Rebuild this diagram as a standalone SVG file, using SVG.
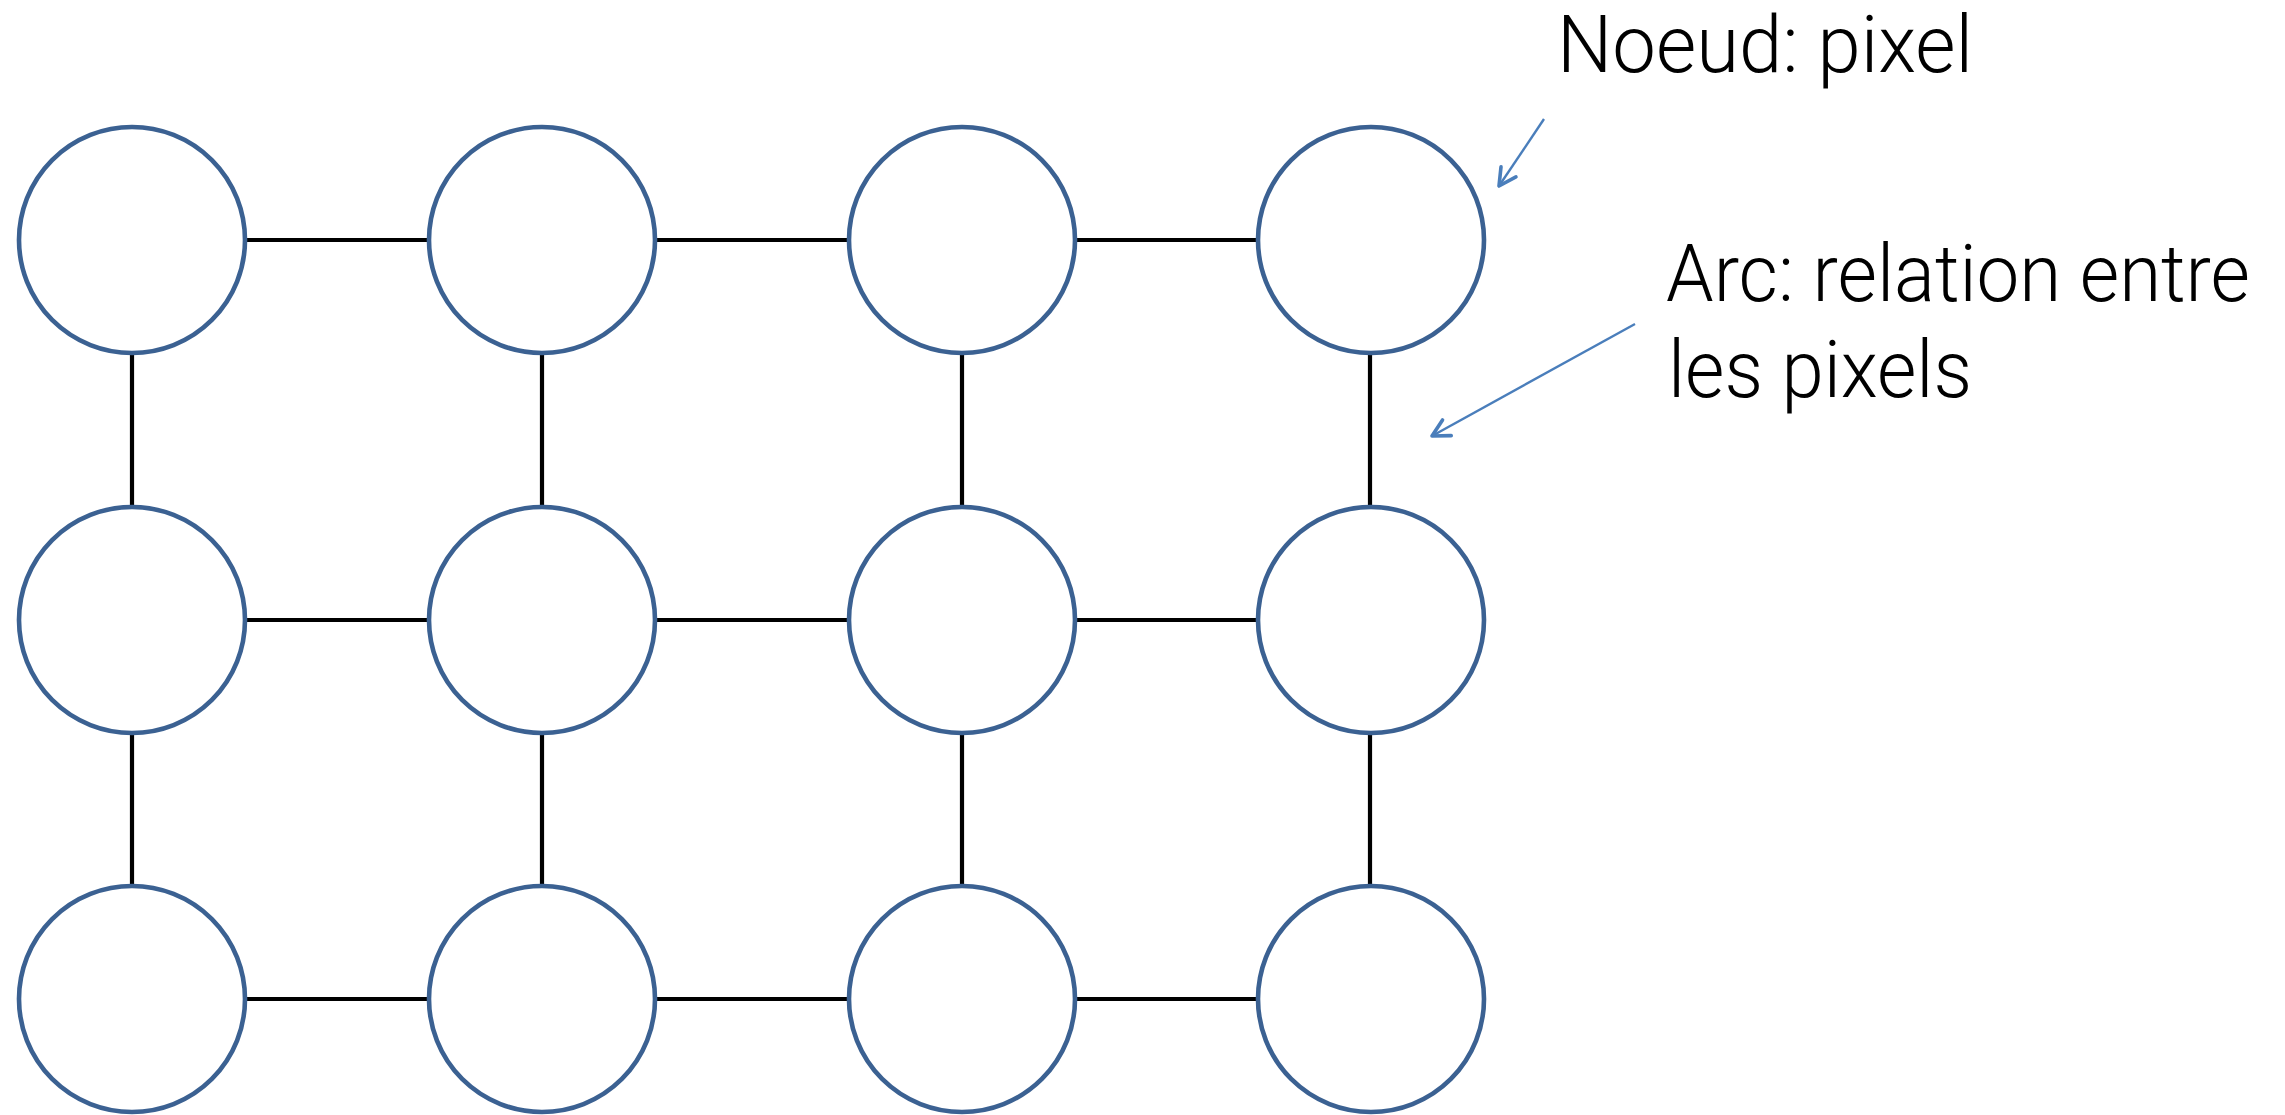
<svg xmlns="http://www.w3.org/2000/svg" width="2285" height="1115" viewBox="0 0 2285 1115">
<style>
.node{fill:#ffffff;stroke:#3b6192;stroke-width:4.6}
.edge{stroke:#000000;stroke-width:4.2;fill:none}
.ann{stroke:#4a7ebb;stroke-width:2.4;fill:none}
.lbl{font-family:Roboto,"Liberation Sans",Arial,sans-serif;font-weight:300;font-size:80px;fill:#000000}
</style>
<defs>
<marker id="vh" markerUnits="userSpaceOnUse" viewBox="-22 -14 26 28" markerWidth="26" markerHeight="28" refX="0" refY="0" orient="auto">
<path d="M-17,-9 L0,0 L-17,9" fill="none" stroke="#4a7ebb" stroke-width="3.6" stroke-linecap="round" stroke-linejoin="round"/>
</marker>
</defs>
<rect width="2285" height="1115" fill="#ffffff"/>
<g id="connectors">
<line class="edge" x1="245" y1="240" x2="429" y2="240"/>
<line class="edge" x1="655" y1="240" x2="849" y2="240"/>
<line class="edge" x1="1075" y1="240" x2="1258" y2="240"/>
<line class="edge" x1="245" y1="620" x2="429" y2="620"/>
<line class="edge" x1="655" y1="620" x2="849" y2="620"/>
<line class="edge" x1="1075" y1="620" x2="1258" y2="620"/>
<line class="edge" x1="245" y1="999" x2="429" y2="999"/>
<line class="edge" x1="655" y1="999" x2="849" y2="999"/>
<line class="edge" x1="1075" y1="999" x2="1258" y2="999"/>
<line class="edge" x1="132" y1="353" x2="132" y2="507"/>
<line class="edge" x1="542" y1="353" x2="542" y2="507"/>
<line class="edge" x1="962" y1="353" x2="962" y2="507"/>
<line class="edge" x1="1370" y1="353" x2="1370" y2="507"/>
<line class="edge" x1="132" y1="733" x2="132" y2="886"/>
<line class="edge" x1="542" y1="733" x2="542" y2="886"/>
<line class="edge" x1="962" y1="733" x2="962" y2="886"/>
<line class="edge" x1="1370" y1="733" x2="1370" y2="886"/>
<line class="ann" x1="1544" y1="119" x2="1499" y2="186" marker-end="url(#vh)"/>
<line class="ann" x1="1635" y1="324" x2="1432" y2="436" marker-end="url(#vh)"/>
</g>
<g id="n11"><circle class="node" cx="132" cy="240" r="113"/></g>
<g id="n12"><circle class="node" cx="542" cy="240" r="113"/></g>
<g id="n13"><circle class="node" cx="962" cy="240" r="113"/></g>
<g id="n14"><circle class="node" cx="1371" cy="240" r="113"/></g>
<g id="n21"><circle class="node" cx="132" cy="620" r="113"/></g>
<g id="n22"><circle class="node" cx="542" cy="620" r="113"/></g>
<g id="n23"><circle class="node" cx="962" cy="620" r="113"/></g>
<g id="n24"><circle class="node" cx="1371" cy="620" r="113"/></g>
<g id="n31"><circle class="node" cx="132" cy="999" r="113"/></g>
<g id="n32"><circle class="node" cx="542" cy="999" r="113"/></g>
<g id="n33"><circle class="node" cx="962" cy="999" r="113"/></g>
<g id="n34"><circle class="node" cx="1371" cy="999" r="113"/></g>
<g id="label-noeud"><text class="lbl" x="1557" y="72" textLength="416" lengthAdjust="spacingAndGlyphs">Noeud: pixel</text></g>
<g id="label-arc">
<text class="lbl" x="1666" y="301" textLength="584" lengthAdjust="spacingAndGlyphs">Arc: relation entre</text>
<text class="lbl" x="1668" y="397" textLength="304" lengthAdjust="spacingAndGlyphs">les pixels</text>
</g>
</svg>
